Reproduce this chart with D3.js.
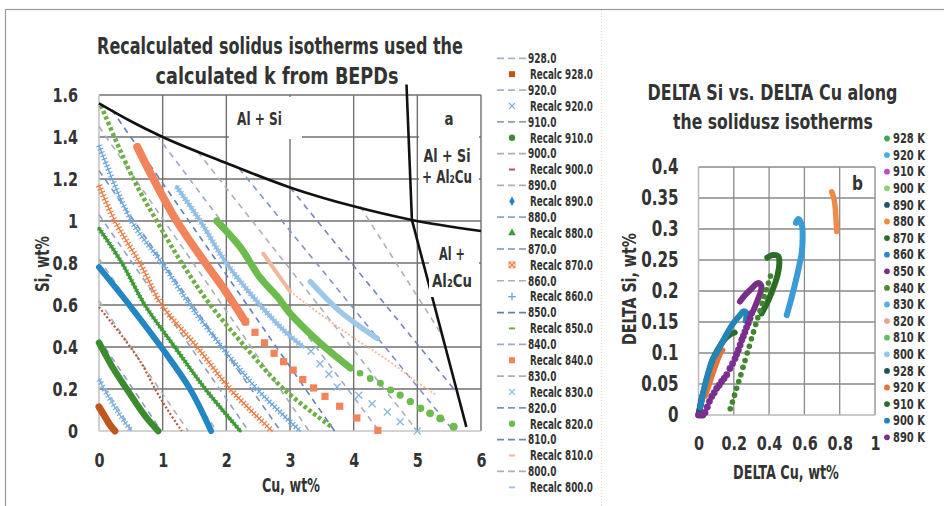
<!DOCTYPE html>
<html><head><meta charset="utf-8">
<script src="https://cdn.jsdelivr.net/npm/d3@7"></script>
<style>
body{margin:0;background:#fff}
text{font-family:'Liberation Sans Narrow','DejaVu Sans Condensed','Roboto',sans-serif;font-weight:bold;fill:#333}
</style></head>
<body><svg id="c" width="944" height="506"></svg>
<script>
// ---------- panel a : Cu–Si solidus isotherms ----------
const cuTicks = [0,1,2,3,4,5,6];
const cuTickLabels = ["0","1","2","3","4","5","6"];
const siTicks = [0,0.2,0.4,0.6,0.8,1,1.2,1.4,1.6];
const siTickLabels = ["0","0.2","0.4","0.6","0.8","1","1.2","1.4","1.6"];
const temps = [928,920,910,900,890,880,870,860,850,840,830,820,810,800];

// Si solubility boundary and Al2Cu boundary [Cu, Si]
const siBoundary = [[0,1.56],[0.5,1.475],[1,1.40],[2,1.276],[3,1.16],[4,1.07],[4.915,1.005],[6,0.952]];
const cuBoundaryUpper = [[4.83,1.65],[4.915,1.005]];
const cuBoundaryLower = [[4.915,1.005],[5.77,0.02]];

// BEPD isotherms (straight, dashed) [Cu, Si]
const iso928 = [[0,0.115],[0.25,0]];
const iso920 = [[0,0.25],[0.52,0]];
const iso910 = [[0,0.44],[0.98,0]];
const iso900 = [[0,0.62],[1.4,0]];
const iso890 = [[0,0.82],[1.85,0]];
const iso880 = [[0,1.03],[2.35,0]];
const iso870 = [[0,1.24],[2.85,0]];
const iso860 = [[0,1.45],[3.3,0]];
const iso850 = [[0.2,1.53],[3.7,0]];
const iso840 = [[0.9,1.41],[4.4,0]];
const iso830 = [[1.55,1.33],[5.0,0]];
const iso820 = [[2.2,1.25],[5.57,0]];
const iso810 = [[3.0,1.16],[5.6,0.19]];
const iso800 = [[4.1,1.07],[5.36,0.47]];

// recalculated isotherms: continuous (dense) part and separate markers [Cu, Si]
const recalc928 = [[0,0.115],[0.08,0.075],[0.16,0.035],[0.25,0.0]];
const recalc920 = [[0,0.245],[0.1,0.19],[0.2,0.138],[0.3,0.09],[0.4,0.045],[0.5,0.003]];
const recalc910 = [[0,0.42],[0.1,0.365],[0.2,0.31],[0.3,0.262],[0.435,0.2],[0.6,0.125],[0.75,0.062],[0.93,0]];
const recalc900 = [[0,0.59],[0.38,0.445],[0.65,0.33],[0.9,0.19],[1.1,0.09],[1.3,0]];
const recalc890 = [[0,0.78],[0.49,0.595],[1.0,0.39],[1.43,0.2],[1.76,0]];
const recalc880 = [[0,0.965],[0.36,0.8],[0.72,0.6],[1.19,0.4],[1.67,0.2],[2.22,0]];
const recalc870 = [[0,1.17],[0.25,1.0],[0.64,0.8],[0.985,0.6],[1.54,0.4],[2.06,0.2],[2.72,0]];
const recalc860 = [[0,1.36],[0.51,1.0],[0.99,0.8],[1.43,0.6],[1.93,0.4],[2.48,0.2],[3.16,0]];
const recalc850 = [[0.03,1.55],[0.54,1.2],[0.907,1.0],[1.3,0.8],[1.75,0.6],[2.3,0.4],[2.9,0.2],[3.65,0.02]];
const recalc840 = [[0.6,1.353],[0.855,1.2],[1.22,1.0],[1.67,0.8],[2.0,0.66],[2.3,0.52]];
const recalc840pts = [[2.3,0.52],[2.45,0.47],[2.6,0.42],[2.75,0.37],[2.9,0.33],[3.05,0.29],[3.2,0.245],[3.37,0.205],[3.55,0.165],[3.78,0.118],[4.05,0.062],[4.38,0.003]];
const recalc830 = [[1.22,1.163],[1.59,1.0],[2.0,0.8],[2.53,0.6],[2.9,0.48],[3.21,0.4]];
const recalc830pts = [[3.33,0.38],[3.47,0.32],[3.61,0.27],[3.74,0.21],[4.08,0.17],[4.29,0.13],[4.53,0.09],[4.73,0.044],[5.0,0.0]];
const recalc820 = [[1.85,1.0],[2.22,0.875],[2.53,0.73],[2.8,0.64],[3.0,0.56],[3.47,0.42],[3.95,0.3]];
const recalc820pts = [[4.1,0.275],[4.26,0.25],[4.42,0.227],[4.58,0.195],[4.73,0.171],[4.89,0.14],[5.05,0.108],[5.2,0.084],[5.36,0.06],[5.57,0.02]];
const recalc810 = [[2.58,0.845],[2.8,0.75],[3.0,0.665]];
const recalc810tail = [[3.0,0.665],[3.53,0.544],[4.05,0.433],[4.53,0.338],[4.95,0.243],[5.3,0.17]];
const recalc800 = [[3.32,0.711],[3.79,0.568],[4.37,0.441]];

// ---------- panel b : DELTA Si vs DELTA Cu ----------
const dCuTicks = [0,0.2,0.4,0.6,0.8,1];
const dCuTickLabels = ["0","0.2","0.4","0.6","0.8","1"];
const dSiTicks = [0,0.05,0.1,0.15,0.2,0.25,0.3,0.35,0.4];
const dSiTickLabels = ["0","0.05","0.1","0.15","0.2","0.25","0.3","0.35","0.4"];
const legendKLabels = ["928 K","920 K","910 K","900 K","890 K","880 K","870 K","860 K","850 K","840 K","830 K","820 K","810 K","800 K","928 K","920 K","910 K","900 K","890 K"];

const delta880 = [[0.755,0.360],[0.768,0.348],[0.776,0.330],[0.780,0.312],[0.783,0.296]];
const delta860 = [[0.552,0.310],[0.566,0.316],[0.586,0.305],[0.590,0.285],[0.585,0.262],[0.570,0.240],[0.556,0.222],[0.528,0.190],[0.500,0.161]];
const delta870 = [[0.390,0.254],[0.420,0.258],[0.452,0.256],[0.458,0.245],[0.450,0.228],[0.433,0.212],[0.396,0.185],[0.358,0.164]];
const delta840 = [[0.180,0.010],[0.192,0.021],[0.204,0.032],[0.216,0.043],[0.228,0.054],[0.240,0.065],[0.252,0.077],[0.264,0.088],[0.276,0.100],[0.288,0.111],[0.300,0.123],[0.312,0.134],[0.324,0.146],[0.336,0.157],[0.348,0.168],[0.360,0.180],[0.372,0.191],[0.384,0.202],[0.396,0.213],[0.408,0.224]];
const delta850 = [[0.235,0.183],[0.265,0.194],[0.301,0.204],[0.325,0.211],[0.339,0.213],[0.356,0.208],[0.352,0.198],[0.339,0.188],[0.322,0.176],[0.31,0.168]];
const delta890b = [[0.301,0.164],[0.292,0.156],[0.282,0.148],[0.272,0.141],[0.263,0.134],[0.254,0.127],[0.245,0.121],[0.236,0.113],[0.226,0.105],[0.216,0.098],[0.207,0.091],[0.193,0.083],[0.178,0.075],[0.16,0.065],[0.145,0.059],[0.131,0.054],[0.117,0.048],[0.103,0.043],[0.089,0.036],[0.075,0.030],[0.062,0.022],[0.05,0.013],[0.037,0.004],[0.025,0.0],[0.012,0.0],[0.0,0.0]];
const delta900b = [[0.01,0.012],[0.03,0.04],[0.055,0.068],[0.08,0.09],[0.103,0.1],[0.141,0.121],[0.197,0.148],[0.235,0.161],[0.254,0.167],[0.27,0.165],[0.268,0.152]];
const delta910b = [[0.0,0.0],[0.015,0.02],[0.035,0.045],[0.06,0.07],[0.09,0.095],[0.13,0.115],[0.17,0.128],[0.205,0.133]];
const delta920b = [[0.04,0.03],[0.07,0.055],[0.1,0.08],[0.125,0.098],[0.14,0.105]];
const delta928b = [[0,0.0],[0.01,0.015],[0.02,0.03]];

// ---------- drawing ----------
const svg = d3.select('#c');
const xL = d3.scaleLinear().domain([0,6]).range([99,481]);
const yL = d3.scaleLinear().domain([0,1.6]).range([431,95]);
const xR = d3.scaleLinear().domain([0,1]).range([698.5,875]);
const yR = d3.scaleLinear().domain([0,0.4]).range([415,167]);

// text drawn horizontally condensed: scale k, or fit to a target width
function label(parent,x,y,str,size,opt={}){
  const g = parent.append('g');
  const t = g.append('text').attr('text-anchor',opt.anchor||'middle').attr('font-size',size).text(str);
  if(opt.fill) t.attr('fill',opt.fill);
  let k = opt.k||0.8;
  if(opt.width){ k = opt.width/t.node().getComputedTextLength(); }
  g.attr('transform',`translate(${x},${y})`+(opt.rot?` rotate(${opt.rot})`:'')+` scale(${k},1)`);
  return t;
}
function squeezeTicks(axisG,k,padX){
  axisG.selectAll('text').each(function(){
    const s=d3.select(this);
    if(padX!==undefined) s.attr('x',padX/k);
    s.attr('transform',`scale(${k},1)`);
  });
}

// outer frame and panel separator
svg.append('rect').attr('x',5.5).attr('y',9.5).attr('width',960).attr('height',520)
  .attr('fill','none').attr('stroke','#9a9a9a').attr('stroke-width',1.2);
svg.append('line').attr('x1',601.5).attr('x2',601.5).attr('y1',10).attr('y2',506)
  .attr('stroke','#d6d6d6').attr('stroke-dasharray','1,2');

// ---- panel a grid ----
const gA = svg.append('g');
gA.selectAll('line.v').data(cuTicks.slice(1)).join('line')
  .attr('x1',d=>xL(d)).attr('x2',d=>xL(d)).attr('y1',yL(0)).attr('y2',yL(1.6))
  .attr('stroke','#707070').attr('stroke-width',1.4);
gA.selectAll('line.h').data(siTicks.slice(1)).join('line')
  .attr('x1',xL(0)).attr('x2',xL(6)).attr('y1',d=>yL(d)).attr('y2',d=>yL(d))
  .attr('stroke','#707070').attr('stroke-width',1.4);
gA.append('line').attr('x1',xL(0)).attr('x2',xL(6)).attr('y1',yL(0)).attr('y2',yL(0)).attr('stroke','#c4c4c4').attr('stroke-width',1.6);
gA.append('line').attr('x1',xL(0)).attr('x2',xL(0)).attr('y1',yL(0)).attr('y2',yL(1.6)).attr('stroke','#c4c4c4').attr('stroke-width',1.6);

const lineL = d3.line().x(d=>xL(d[0])).y(d=>yL(d[1]));
const curveL = d3.line().x(d=>xL(d[0])).y(d=>yL(d[1])).curve(d3.curveMonotoneX);
const curveL2 = d3.line().x(d=>xL(d[0])).y(d=>yL(d[1])).curve(d3.curveCatmullRom);

// dashed BEPD isotherms
const isoData = [iso928,iso920,iso910,iso900,iso890,iso880,iso870,iso860,iso850,iso840,iso830,iso820,iso810,iso800];
const isoColors = ['#a3b4cf','#a3b4cf','#8c9fc4','#a9afbd','#a9afbd','#8fa3c8','#7b8fbd','#a9afbd','#5f7fbf','#9eaac4','#aab0be','#8093c2','#7584b8','#aeaeb6'];
gA.selectAll('path.iso').data(isoData).join('path')
  .attr('d',lineL).attr('fill','none').attr('stroke',(d,i)=>isoColors[i])
  .attr('stroke-width',1.6).attr('stroke-dasharray','6,5');

// recalculated isotherms
const gR = gA.append('g').attr('fill','none').attr('stroke-linecap','round').attr('stroke-linejoin','round');
function dense(data,color,w,dash){
  const p=gR.append('path').attr('d',curveL2(data)).attr('stroke',color).attr('stroke-width',w);
  if(dash) p.attr('stroke-dasharray',dash).attr('stroke-linecap','butt');
  return p;
}
function zipper(data,color,w){
  gR.append('path').attr('d',curveL2(data)).attr('stroke',color).attr('stroke-width',1.4);
  gR.append('path').attr('d',curveL2(data)).attr('stroke',color).attr('stroke-width',w)
    .attr('stroke-dasharray','1.2,2.4').attr('stroke-linecap','butt');
}
dense(recalc928,'#c0561f',7);
zipper(recalc920,'#7bb0dc',6);
dense(recalc910,'#3d8b2f',6.5);
dense(recalc900,'#b35a3f',2.2,'2,2');
dense(recalc890,'#2286c4',6);
zipper(recalc880,'#3d9a36',5);
gR.append('path').attr('d',curveL2(recalc880)).attr('stroke','#3d9a36').attr('stroke-width',3);
zipper(recalc870,'#ee7c45',6.5);
zipper(recalc860,'#6aa6dc',6);
dense(recalc850,'#6fae47',4.5,'3.5,2.5');
dense(recalc840,'#f2845c',8);
gA.selectAll('rect.m840').data(recalc840pts).join('rect')
  .attr('x',d=>xL(d[0])-3.6).attr('y',d=>yL(d[1])-3.6).attr('width',7.2).attr('height',7.2).attr('fill','#f2845c');
zipper(recalc830,'#92bfe6',6.5);
gR.append('path').attr('d',curveL2(recalc830)).attr('stroke','#92bfe6').attr('stroke-width',3.5);
gA.selectAll('path.m830').data(recalc830pts).join('path')
  .attr('transform',d=>`translate(${xL(d[0])},${yL(d[1])})`)
  .attr('d',d3.symbol(d3.symbolTimes,34)).attr('fill','none').attr('stroke','#8bb8e2').attr('stroke-width',1.4);
dense(recalc820,'#6cbb4d',7);
gA.selectAll('circle.m820').data(recalc820pts).join('circle')
  .attr('cx',d=>xL(d[0])).attr('cy',d=>yL(d[1])).attr('r',(d,i)=>3.3+i*0.08).attr('fill','#6cbb4d');
dense(recalc810,'#f2b89c',4);
dense(recalc810tail,'#f2b89c',1.8,'2,2');
dense(recalc800,'#9ec8ea',5.5);

// phase boundaries
gA.append('path').attr('d',curveL(siBoundary)).attr('fill','none').attr('stroke','#111').attr('stroke-width',2.6);
gA.append('path').attr('d',lineL(cuBoundaryUpper)).attr('fill','none').attr('stroke','#111').attr('stroke-width',2.6);
gA.append('path').attr('d',lineL(cuBoundaryLower)).attr('fill','none').attr('stroke','#111').attr('stroke-width',2.6);

// phase field labels on white boxes
const boxes = [
  {x:229,y:97,w:73,h:42,lines:["Al + Si"],cx:259.5,ys:[125],ws:[45]},
  {x:419,y:97,w:60,h:41,lines:["a"],cx:449,ys:[125],ws:[9]},
  {x:419,y:141,w:60,h:64,lines:["Al + Si","+ Al₂Cu"],cx:447,ys:[162,183],ws:[47,50]},
  {x:429,y:240,w:50,h:57,lines:["Al +","Al₂Cu"],cx:452,ys:[260,287],ws:[26,40]}
];
boxes.forEach(b=>{
  gA.append('rect').attr('x',b.x).attr('y',b.y).attr('width',b.w).attr('height',b.h).attr('fill','#fff');
  b.lines.forEach((t,i)=>label(gA,b.cx,b.ys[i],t,18,{width:b.ws[i]}));
});

// axes panel a
const axYL = svg.append('g').attr('transform',`translate(${xL(0)},0)`)
  .call(d3.axisLeft(yL).tickValues(siTicks).tickFormat((d,i)=>siTickLabels[i]).tickSize(0).tickPadding(21));
axYL.select('.domain').remove();
axYL.selectAll('text').attr('font-size',20).attr('fill','#333').attr('font-family',null);
squeezeTicks(axYL,0.8,-21);
const axXL = svg.append('g').attr('transform',`translate(0,${yL(0)})`)
  .call(d3.axisBottom(xL).tickValues(cuTicks).tickFormat((d,i)=>cuTickLabels[i]).tickSize(0).tickPadding(22));
axXL.select('.domain').remove();
axXL.selectAll('text').attr('font-size',20).attr('fill','#333').attr('font-family',null);
squeezeTicks(axXL,0.8);

label(svg,49,264,'Si, wt%',19,{rot:-90,width:56});
label(svg,291,492,'Cu, wt%',19,{width:58});

label(svg,280,54,'Recalculated solidus isotherms used the',23,{width:366,fill:'#222'});
label(svg,277,84,'calculated k from  BEPDs',23,{width:243,fill:'#222'});

// legend panel a
const recalcColors = ['#c0561f','#7bb0dc','#3d8b2f','#b35a3f','#2286c4','#3d9a36','#ee7c45','#6aa6dc','#6fae47','#f2845c','#92bfe6','#6cbb4d','#f2b89c','#9ec8ea'];
const recalcShapes = ['square','times','circle','dash','diamond','triangle','timesbox','plus','dash','square','times','circle','dash','dash'];
const legendLabelsL = temps.flatMap(t=>[t.toFixed(1),'Recalc '+t.toFixed(1)]);
const gLeg = svg.append('g');
legendLabelsL.forEach((lab,i)=>{
  const y = 58.3 + i*15.89;
  const k = Math.floor(i/2);
  if(i%2===0){
    gLeg.append('line').attr('x1',497).attr('x2',527).attr('y1',y).attr('y2',y)
      .attr('stroke',isoColors[k]).attr('stroke-width',1.7).attr('stroke-dasharray','7,4');
    label(gLeg,528,y+4.8,lab,13.5,{anchor:'start',k:0.74});
  } else {
    const c=recalcColors[k], s=recalcShapes[k], g=gLeg.append('g').attr('transform',`translate(512,${y})`);
    if(s==='square') g.append('rect').attr('x',-3).attr('y',-3).attr('width',6).attr('height',6).attr('fill',c);
    else if(s==='circle') g.append('circle').attr('r',3.2).attr('fill',c);
    else if(s==='diamond') g.append('path').attr('d',d3.symbol(d3.symbolDiamond,26)).attr('fill',c);
    else if(s==='triangle') g.append('path').attr('d',d3.symbol(d3.symbolTriangle,26)).attr('fill',c);
    else if(s==='dash') g.append('rect').attr('x',-3).attr('y',-1).attr('width',6).attr('height',2).attr('fill',c);
    else if(s==='plus') g.append('path').attr('d',d3.symbol(d3.symbolPlus,22)).attr('fill','none').attr('stroke',c).attr('stroke-width',1.3);
    else { g.append('path').attr('d',d3.symbol(d3.symbolTimes,24)).attr('fill','none').attr('stroke',c).attr('stroke-width',1.3);
      if(s==='timesbox') g.append('rect').attr('x',-3).attr('y',-3).attr('width',6).attr('height',6).attr('fill','none').attr('stroke',c).attr('stroke-width',0.8); }
    label(gLeg,530,y+4.8,lab,13.5,{anchor:'start',width:63});
  }
});

// ---- panel b ----
const gB = svg.append('g');
gB.selectAll('line.v').data(dCuTicks.slice(1)).join('line')
  .attr('x1',d=>xR(d)).attr('x2',d=>xR(d)).attr('y1',yR(0)).attr('y2',yR(0.4))
  .attr('stroke','#8a8a8a').attr('stroke-width',1.3);
gB.selectAll('line.h').data(dSiTicks.slice(1)).join('line')
  .attr('x1',xR(0)).attr('x2',xR(1)).attr('y1',d=>yR(d)).attr('y2',d=>yR(d))
  .attr('stroke','#8a8a8a').attr('stroke-width',1.3);
gB.append('line').attr('x1',xR(0)).attr('x2',xR(1)).attr('y1',yR(0)).attr('y2',yR(0)).attr('stroke','#b8b8b8').attr('stroke-width',1.5);
gB.append('line').attr('x1',xR(0)).attr('x2',xR(0)).attr('y1',yR(0)).attr('y2',yR(0.4)).attr('stroke','#b8b8b8').attr('stroke-width',1.5);

const legendKColors = ['#3daa4f','#3fb0e6','#c04bc0','#8ccf6e','#1f5568','#f08a3c','#2a6e26','#2b8cc4','#7a2f86','#4c8c34','#52b0e0','#e8a48e','#62c062','#8ccbea','#1e4f60','#e4743a','#2b6b2b','#2483b8','#7a2e8e'];
const lineR = d3.line().x(d=>xR(d[0])).y(d=>yR(d[1])).curve(d3.curveCatmullRom);
const gD = gB.append('g').attr('fill','none').attr('stroke-linecap','round').attr('stroke-linejoin','round');
gD.append('path').attr('d',lineR(delta910b)).attr('stroke',legendKColors[16]).attr('stroke-width',6);
gD.append('path').attr('d',lineR(delta928b)).attr('stroke',legendKColors[14]).attr('stroke-width',6);
gD.append('path').attr('d',lineR(delta920b)).attr('stroke',legendKColors[15]).attr('stroke-width',4.5);
gD.append('path').attr('d',lineR(delta900b)).attr('stroke',legendKColors[17]).attr('stroke-width',6);
gB.selectAll('circle.d890').data(delta890b).join('circle')
  .attr('cx',d=>xR(d[0])).attr('cy',d=>yR(d[1])).attr('r',3.4).attr('fill',legendKColors[18]);
gD.append('path').attr('d',lineR(delta850)).attr('stroke',legendKColors[8]).attr('stroke-width',6);
gB.selectAll('circle.d840').data(delta840).join('circle')
  .attr('cx',d=>xR(d[0])).attr('cy',d=>yR(d[1])).attr('r',2.8).attr('fill','#3f862c');
gD.append('path').attr('d',lineR(delta870)).attr('stroke',legendKColors[6]).attr('stroke-width',6);
gD.append('path').attr('d',lineR(delta860)).attr('stroke','#3a9bd6').attr('stroke-width',6);
gD.append('path').attr('d',lineR(delta880)).attr('stroke','#ef8b47').attr('stroke-width',5.5);

label(gB,857.5,190,'b',20,{k:0.85});

const axYR = svg.append('g').attr('transform',`translate(${xR(0)},0)`)
  .call(d3.axisLeft(yR).tickValues(dSiTicks).tickFormat((d,i)=>dSiTickLabels[i]).tickSize(0).tickPadding(20));
axYR.select('.domain').remove();
axYR.selectAll('text').attr('font-size',21).attr('fill','#333').attr('font-family',null);
squeezeTicks(axYR,0.8,-20);
const axXR = svg.append('g').attr('transform',`translate(0,${yR(0)})`)
  .call(d3.axisBottom(xR).tickValues(dCuTicks).tickFormat((d,i)=>dCuTickLabels[i]).tickSize(0).tickPadding(21));
axXR.select('.domain').remove();
axXR.selectAll('text').attr('font-size',20).attr('fill','#333').attr('font-family',null);
squeezeTicks(axXR,0.8);

label(svg,636,289,'DELTA Si, wt%',20,{rot:-90,width:112});
label(svg,786,479,'DELTA Cu, wt%',20,{width:106});

label(svg,772.5,100,'DELTA Si vs. DELTA Cu  along',22,{width:250,fill:'#222'});
label(svg,773,129,'the solidusz isotherms',22,{width:200,fill:'#222'});

// legend panel b
legendKLabels.forEach((lab,i)=>{
  const y = 138.5 + i*16.6;
  svg.append('circle').attr('cx',887).attr('cy',y).attr('r',2.9).attr('fill',legendKColors[i]);
  label(svg,893,y+4.6,lab,13.5,{anchor:'start',width:32});
});
</script></body></html>
